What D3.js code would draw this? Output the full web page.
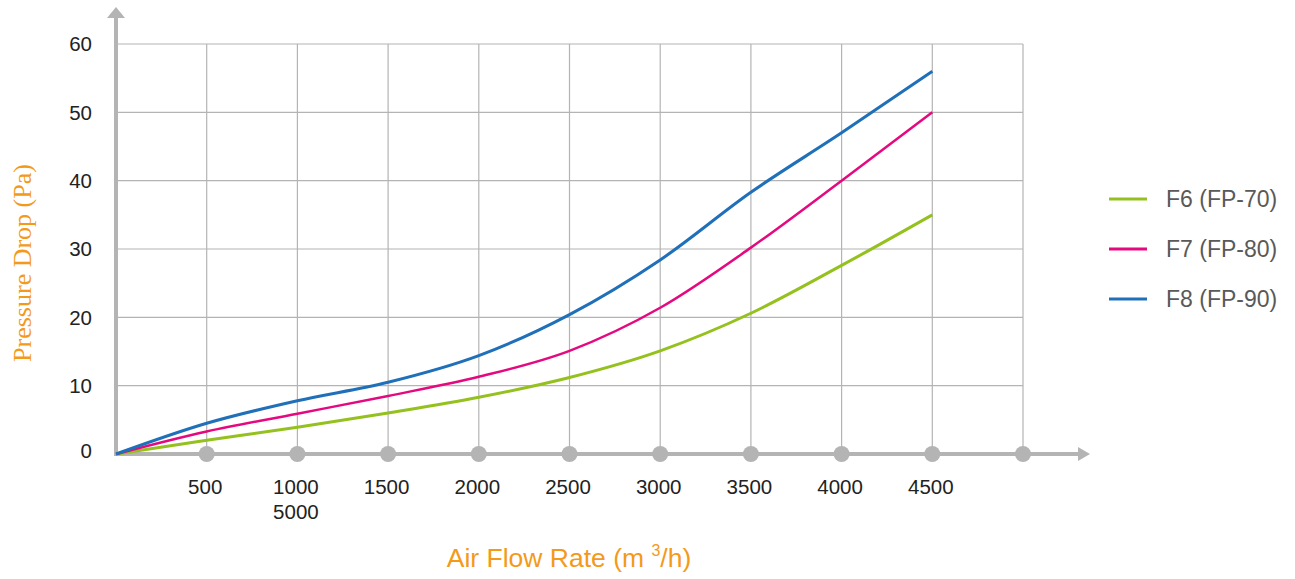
<!DOCTYPE html>
<html>
<head>
<meta charset="utf-8">
<script src="https://cdn.jsdelivr.net/npm/d3@7"></script>
<style>
  html, body { margin: 0; padding: 0; background: #fff; }
  svg { display: block; }
</style>
</head>
<body>
<svg id="chart" width="1295" height="579"></svg>
<script>
// Air flow rate (m³/h) sample points
const flowRates = [0, 500, 1000, 1500, 2000, 2500, 3000, 3500, 4000, 4500];
// Pressure drop (Pa) per filter class
const f6Values = [0, 2.0, 3.9, 6.0, 8.3, 11.2, 15.1, 20.6, 27.6, 35.0];
const f7Values = [0, 3.3, 5.9, 8.5, 11.3, 15.1, 21.4, 30.2, 40.0, 50.0];
const f8Values = [0, 4.5, 7.8, 10.5, 14.4, 20.4, 28.4, 38.3, 47.0, 56.0];
const seriesNames = ["F6 (FP-70)", "F7 (FP-80)", "F8 (FP-90)"];
const seriesColors = ["#95c11f", "#e5097f", "#1f70b8"];

// Axis ticks
const xGridValues = [500, 1000, 1500, 2000, 2500, 3000, 3500, 4000, 4500, 5000];
const xTickLabels = ["500", "1000", "1500", "2000", "2500", "3000", "3500", "4000", "4500"];
const xWrappedLabel = { text: "5000", under: 1000 };
const yTickValues = [0, 10, 20, 30, 40, 50, 60];

const svg = d3.select("#chart");
const axisGrey = "#b4b4b4";
const orange = "#f39a1b";

const x = d3.scaleLinear().domain([0, 5000]).range([116, 1023]);
const y = d3.scaleLinear().domain([0, 60]).range([454, 44]);

// grid
const grid = svg.append("g");
grid.selectAll("line.h").data(yTickValues.filter(v => v > 0)).join("line")
  .attr("x1", x(0)).attr("x2", x(5000))
  .attr("y1", d => y(d)).attr("y2", d => y(d))
  .attr("stroke", axisGrey).attr("stroke-width", 1.2);
grid.selectAll("line.v").data(xGridValues).join("line")
  .attr("x1", d => x(d)).attr("x2", d => x(d))
  .attr("y1", y(60)).attr("y2", y(0))
  .attr("stroke", axisGrey).attr("stroke-width", 1.2);

// axes with arrow heads
svg.append("line")
  .attr("x1", x(0)).attr("x2", x(0)).attr("y1", y(0) + 2).attr("y2", 16)
  .attr("stroke", axisGrey).attr("stroke-width", 4);
svg.append("path")
  .attr("d", `M${x(0) - 9},18 L${x(0)},7 L${x(0) + 9},18 Z`)
  .attr("fill", axisGrey);
svg.append("line")
  .attr("x1", x(0) - 2).attr("x2", 1080).attr("y1", y(0)).attr("y2", y(0))
  .attr("stroke", axisGrey).attr("stroke-width", 4);
svg.append("path")
  .attr("d", `M1078,${y(0) - 7} L1090,${y(0)} L1078,${y(0) + 7} Z`)
  .attr("fill", axisGrey);

// tick markers on the x axis
svg.selectAll("circle.tick").data(xGridValues).join("circle")
  .attr("cx", d => x(d)).attr("cy", y(0)).attr("r", 8)
  .attr("fill", axisGrey);

// tick labels
const labelFont = "'Liberation Sans', Arial, sans-serif";
svg.selectAll("text.ylab").data(yTickValues).join("text")
  .attr("x", 92).attr("y", d => y(d) + (d === 0 ? -3 : 0))
  .attr("dy", "0.36em")
  .attr("text-anchor", "end")
  .attr("font-family", labelFont).attr("font-size", 20.5).attr("fill", "#222")
  .text(d => d);

svg.selectAll("text.xlab").data(xTickLabels).join("text")
  .attr("x", d => x(+d) - 1.5).attr("y", 494)
  .attr("text-anchor", "middle")
  .attr("font-family", labelFont).attr("font-size", 20.5).attr("fill", "#222")
  .text(d => d);
svg.append("text")
  .attr("x", x(xWrappedLabel.under) - 1.5).attr("y", 519)
  .attr("text-anchor", "middle")
  .attr("font-family", labelFont).attr("font-size", 20.5).attr("fill", "#222")
  .text(xWrappedLabel.text);

// series lines
const series = [f6Values, f7Values, f8Values];
const line = d3.line()
  .x((d, i) => x(flowRates[i]))
  .y(d => y(d))
  .curve(d3.curveMonotoneX);
svg.selectAll("path.series").data(series).join("path")
  .attr("d", line)
  .attr("fill", "none")
  .attr("stroke", (d, i) => seriesColors[i])
  .attr("stroke-width", (d, i) => i === 1 ? 2.5 : 3)
  .attr("stroke-linejoin", "round");

// legend
const legend = svg.append("g");
seriesNames.forEach((name, i) => {
  const ly = 199 + i * 50;
  legend.append("line")
    .attr("x1", 1109).attr("x2", 1147).attr("y1", ly).attr("y2", ly)
    .attr("stroke", seriesColors[i]).attr("stroke-width", 3);
  legend.append("text")
    .attr("x", 1166).attr("y", ly).attr("dy", "0.36em")
    .attr("font-family", labelFont).attr("font-size", 23).attr("fill", "#595959")
    .text(name);
});

// axis titles
const xt = svg.append("text")
  .attr("x", 569).attr("y", 567)
  .attr("text-anchor", "middle")
  .attr("font-family", labelFont).attr("font-size", 26.5).attr("fill", orange);
xt.append("tspan").text("Air Flow Rate (m ");
xt.append("tspan").attr("font-size", 16).attr("dy", -11).text("3");
xt.append("tspan").attr("dy", 11).text("/h)");

svg.append("text")
  .attr("transform", "translate(31,263) rotate(-90)")
  .attr("text-anchor", "middle")
  .attr("font-family", "'Liberation Serif', 'Times New Roman', serif")
  .attr("font-size", 26).attr("fill", orange)
  .text("Pressure Drop (Pa)");
</script>
</body>
</html>
